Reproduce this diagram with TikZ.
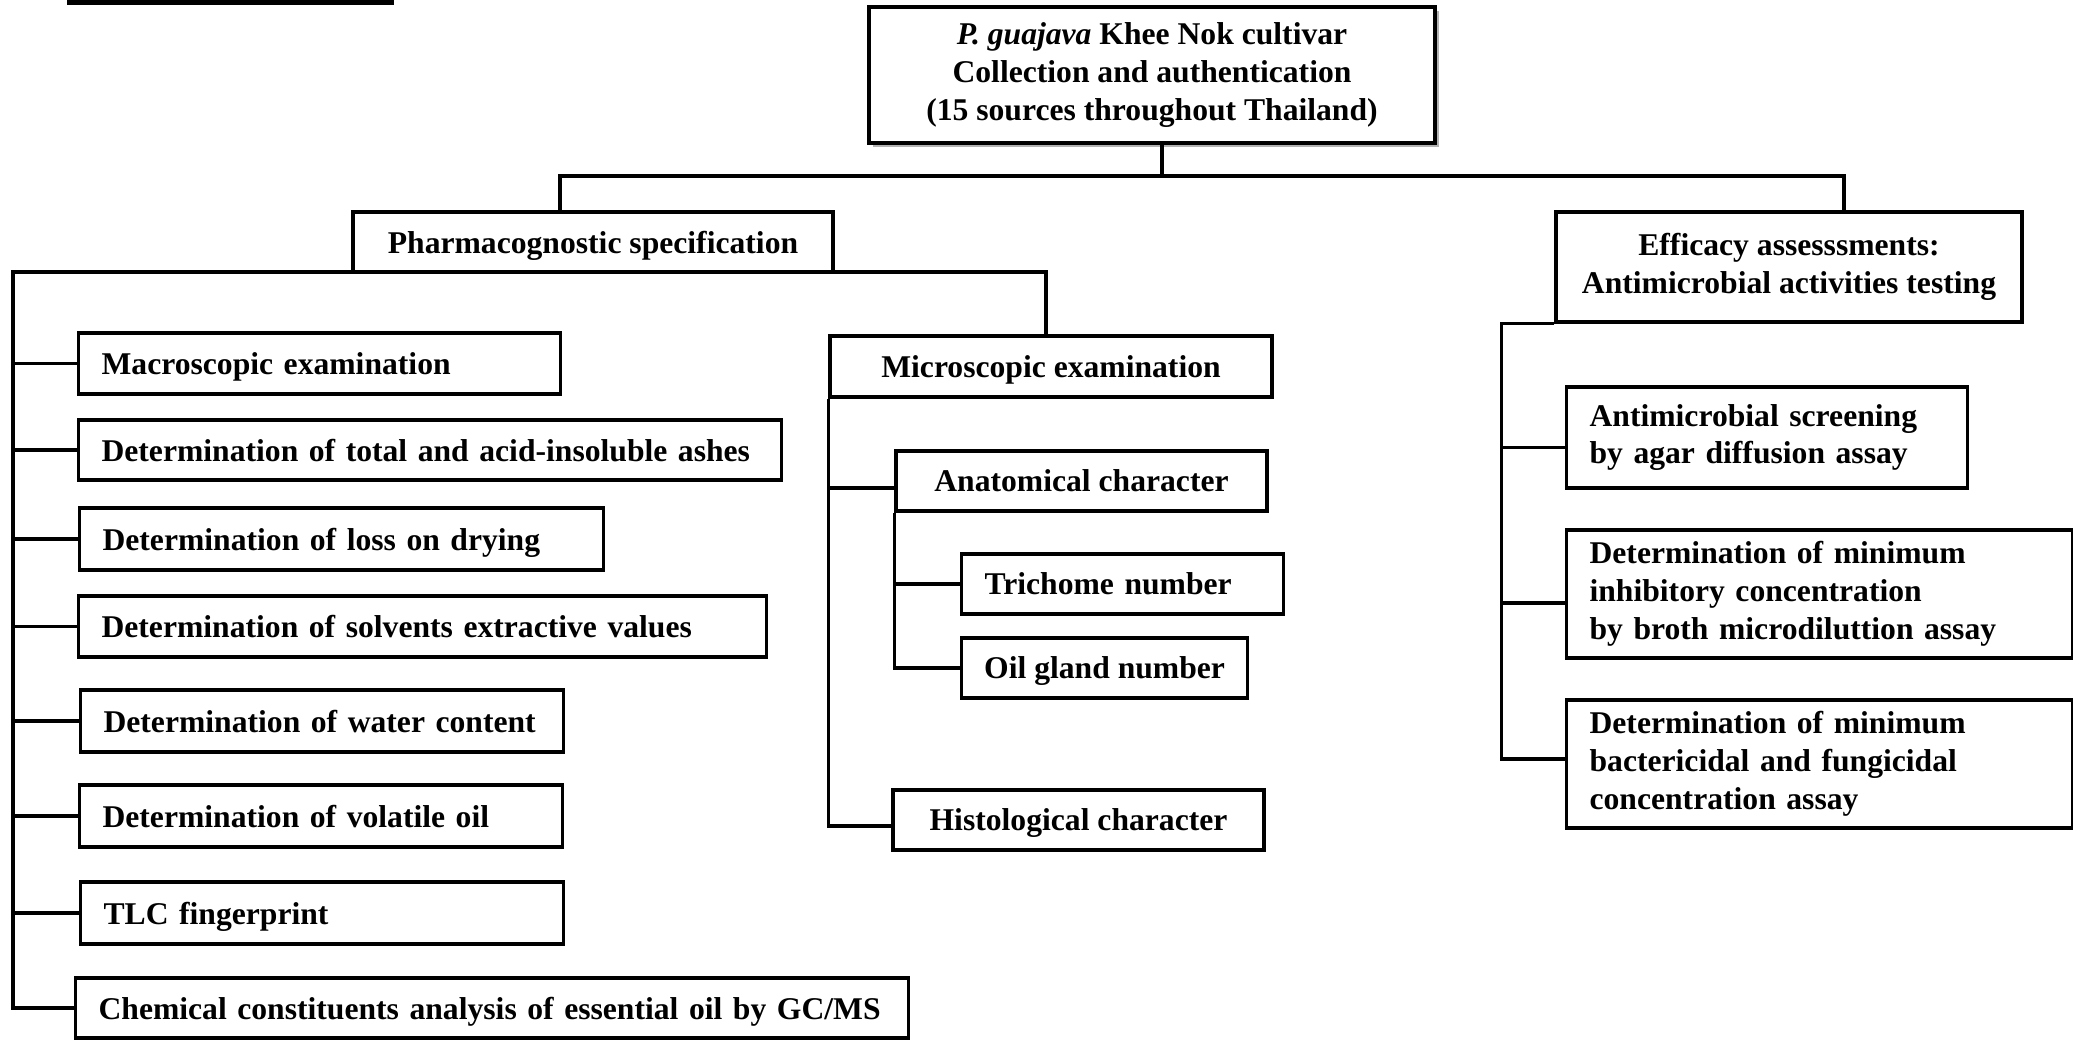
\documentclass[tikz,border=0pt]{standalone}
\usepackage{fontspec}
\setmainfont{Liberation Serif}
\usepackage{tikz}
\usetikzlibrary{calc, shadows}

\begin{document}
\begin{tikzpicture}[
    box/.style={rectangle, draw=black, line width=0.9pt, fill=white, align=center, inner xsep=0.23cm, inner ysep=0.08cm, text depth=0pt, font=\bfseries\fontsize{9}{10.8}\selectfont},
    multi/.style={text depth=},
    leaf/.style={box, anchor=west, align=left, text width=#1},
    link/.style={line width=0.9pt}
]
\useasboundingbox (0,0) rectangle (20.73,-10.40);

% cut-off title rule
\draw[line width=1.4pt] (0.67,-0.025) -- (3.94,-0.025);

% === Source ===
\node[box, multi, line width=1.3pt, minimum width=5.66cm, minimum height=1.36cm, drop shadow={shadow xshift=0.04cm, shadow yshift=-0.04cm, fill=black!30, opacity=1}] (src) at (11.52,-0.75) {\textit{P. guajava} Khee Nok cultivar\\Collection and authentication\\(15 sources throughout Thailand)};

% === Two branches ===
\node[box, minimum width=4.80cm, minimum height=0.60cm] (pharm) at (5.93,-2.42) {Pharmacognostic specification};
\node[box, multi, minimum width=4.66cm, minimum height=1.10cm] (eff) at (17.89,-2.67) {Efficacy assesssments:\\Antimicrobial activities testing};

\coordinate (busL) at (5.60,-1.76);
\coordinate (busR) at (18.44,-1.76);
\draw[link] ([xshift=0.1cm]src.south) -- ([xshift=0.1cm]src.south |- busL);
\draw[link] (pharm.north -| busL) -- (busL) -- (busR) -- (busR |- eff.north);

% === Pharmacognostic list ===
\node[leaf=4.36cm, minimum height=0.61cm] (macro) at (0.77,-3.635) {Macroscopic examination};
\node[leaf=6.57cm, minimum height=0.60cm] (ashes) at (0.77,-4.50) {Determination of total and acid-insoluble ashes};
\node[leaf=4.78cm, minimum height=0.62cm] (loss) at (0.78,-5.39) {Determination of loss on drying};
\node[leaf=6.42cm, minimum height=0.61cm] (solv) at (0.77,-6.265) {Determination of solvents extractive values};
\node[leaf=4.37cm, minimum height=0.62cm] (water) at (0.79,-7.21) {Determination of water content};
\node[leaf=4.37cm, minimum height=0.62cm] (vol) at (0.78,-8.16) {Determination of volatile oil};
\node[leaf=4.37cm, minimum height=0.62cm] (tlc) at (0.79,-9.13) {TLC fingerprint};
\node[leaf=7.87cm, minimum height=0.60cm] (chem) at (0.74,-10.08) {Chemical constituents analysis of essential oil by GC/MS};

% === Microscopic branch ===
\node[box, minimum width=4.42cm, minimum height=0.61cm] (micro) at (10.51,-3.665) {Microscopic examination};
\node[box, minimum width=3.71cm, minimum height=0.60cm] (anat) at (10.815,-4.81) {Anatomical character};
\node[leaf=2.76cm, minimum height=0.60cm] (trich) at (9.60,-5.84) {Trichome number};
\node[box, anchor=west, inner xsep=0.1cm, minimum width=2.86cm, minimum height=0.60cm] (oil) at (9.60,-6.68) {Oil gland number};
\node[box, minimum width=3.71cm, minimum height=0.60cm] (histo) at (10.785,-8.20) {Histological character};

\coordinate (spine) at (0.13,-2.72);
\draw[link] ([xshift=-0.05cm]micro.north) |- (spine) -- (spine |- chem.west) -- (chem.west);
\foreach \n in {macro,ashes,loss,solv,water,vol,tlc}
    \draw[link] (spine |- \n.west) -- (\n.west);

\draw[link] (micro.south west) |- ([yshift=-0.06cm]histo.west);
\draw[link] (micro.south west |- anat.west) ++(0,-0.07) -- ([yshift=-0.07cm]anat.west);
\draw[link] (anat.south west) |- (oil.west);
\draw[link] (anat.south west |- trich.west) -- (trich.west);

% === Efficacy list ===
\node[leaf=3.55cm, multi, minimum height=1.01cm] (screen) at (15.65,-4.375) {Antimicrobial screening\\by agar diffusion assay};
\node[leaf=4.60cm, multi, minimum height=1.28cm] (mic) at (15.65,-5.94) {Determination of minimum\\inhibitory concentration\\by broth microdiluttion assay};
\node[leaf=4.60cm, multi, minimum height=1.28cm] (mbc) at (15.65,-7.64) {Determination of minimum\\bactericidal and fungicidal\\concentration assay};

\coordinate (rspine) at ([xshift=-0.53cm]eff.south west);
\draw[link] (eff.south west) -- (rspine) |- ([yshift=0.05cm]mbc.west);
\draw[link] (rspine |- screen.west) ++(0,-0.1) -- ([yshift=-0.1cm]screen.west);
\draw[link] (rspine |- mic.west) ++(0,-0.09) -- ([yshift=-0.09cm]mic.west);

\end{tikzpicture}
\end{document}
